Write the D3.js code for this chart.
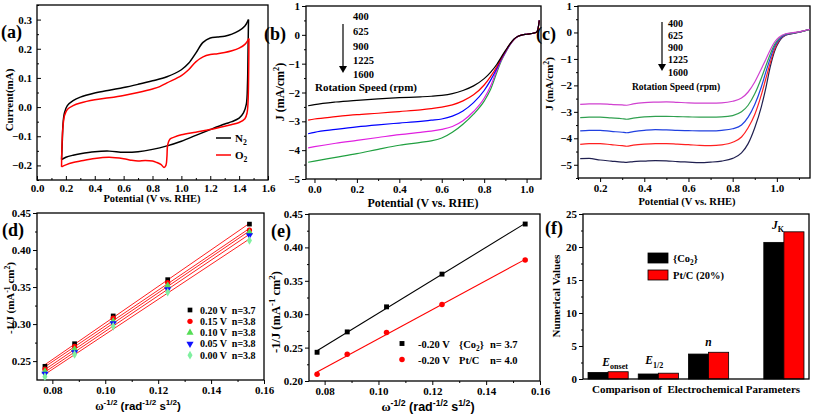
<!DOCTYPE html>
<html><head><meta charset="utf-8">
<script src="https://cdn.jsdelivr.net/npm/d3@7/dist/d3.min.js"></script>
<style>body{margin:0;background:#fff}svg{display:block}</style>
</head><body>
<svg id="fig" width="813" height="417"></svg>
<script>
// ================= DATA =================
// (a) cyclic voltammograms [potential V, current mA]
const cvN2Anodic = [[0.17,-0.18],[0.175,-0.12],[0.18,-0.06],[0.19,-0.02],[0.21,0.005],[0.25,0.022],[0.3,0.034],[0.4,0.048],[0.5,0.058],[0.6,0.067],[0.7,0.078],[0.8,0.09],[0.9,0.104],[1.0,0.128],[1.05,0.15],[1.1,0.185],[1.15,0.222],[1.2,0.237],[1.25,0.24],[1.3,0.243],[1.35,0.25],[1.4,0.262],[1.44,0.278],[1.465,0.30]];
const cvN2Cathodic = [[1.465,0.30],[1.462,0.2],[1.458,0.08],[1.45,0.01],[1.43,-0.02],[1.4,-0.038],[1.35,-0.05],[1.3,-0.058],[1.2,-0.077],[1.1,-0.097],[1.0,-0.117],[0.9,-0.133],[0.8,-0.145],[0.7,-0.153],[0.6,-0.155],[0.5,-0.151],[0.4,-0.153],[0.3,-0.16],[0.25,-0.165],[0.2,-0.172],[0.17,-0.18]];
const cvO2Anodic = [[0.17,-0.205],[0.172,-0.15],[0.178,-0.08],[0.19,-0.03],[0.21,-0.008],[0.25,0.005],[0.3,0.014],[0.4,0.025],[0.5,0.032],[0.6,0.04],[0.7,0.05],[0.8,0.062],[0.85,0.07],[0.9,0.083],[1.0,0.108],[1.05,0.128],[1.1,0.155],[1.15,0.172],[1.2,0.18],[1.25,0.183],[1.3,0.187],[1.35,0.193],[1.4,0.202],[1.44,0.215],[1.468,0.235]];
const cvO2Cathodic = [[1.468,0.235],[1.466,0.12],[1.462,0.02],[1.455,-0.02],[1.44,-0.04],[1.4,-0.053],[1.35,-0.06],[1.3,-0.066],[1.2,-0.077],[1.1,-0.086],[1.0,-0.095],[0.95,-0.103],[0.92,-0.11],[0.905,-0.13],[0.9,-0.17],[0.893,-0.2],[0.88,-0.207],[0.86,-0.197],[0.83,-0.19],[0.8,-0.185],[0.75,-0.183],[0.7,-0.185],[0.65,-0.182],[0.6,-0.177],[0.5,-0.172],[0.4,-0.176],[0.3,-0.185],[0.25,-0.19],[0.2,-0.198],[0.17,-0.205]];
const cvLegend = ["N", "O"];

// (b) LSV curves {Co2}
const lsvBPotential = [-0.03,0.0,0.1,0.2,0.3,0.4,0.5,0.55,0.6,0.65,0.7,0.75,0.8,0.83,0.86,0.88,0.9,0.92,0.94,0.96,0.98,1.0,1.02,1.04,1.05,1.055,1.06];
const lsvB400  = [-2.46,-2.42,-2.33,-2.27,-2.22,-2.18,-2.15,-2.13,-2.10,-2.04,-1.93,-1.77,-1.52,-1.30,-1.02,-0.78,-0.55,-0.33,-0.15,-0.05,0.0,0.02,0.04,0.07,0.12,0.25,0.5];
const lsvB625  = [-2.96,-2.92,-2.84,-2.77,-2.72,-2.66,-2.60,-2.56,-2.51,-2.43,-2.29,-2.08,-1.74,-1.45,-1.10,-0.82,-0.57,-0.34,-0.16,-0.05,0.0,0.02,0.04,0.07,0.12,0.25,0.5];
const lsvB900  = [-3.43,-3.38,-3.28,-3.19,-3.12,-3.06,-3.00,-2.96,-2.92,-2.82,-2.64,-2.35,-1.93,-1.58,-1.16,-0.85,-0.59,-0.35,-0.16,-0.05,0.0,0.02,0.04,0.07,0.12,0.25,0.5];
const lsvB1225 = [-3.92,-3.88,-3.76,-3.66,-3.56,-3.46,-3.38,-3.34,-3.28,-3.18,-2.98,-2.66,-2.20,-1.78,-1.22,-0.88,-0.61,-0.36,-0.17,-0.05,0.0,0.02,0.04,0.07,0.12,0.25,0.5];
const lsvB1600 = [-4.42,-4.38,-4.25,-4.12,-3.97,-3.83,-3.73,-3.68,-3.58,-3.38,-3.10,-2.75,-2.30,-1.90,-1.30,-0.92,-0.63,-0.37,-0.17,-0.05,0.0,0.02,0.04,0.07,0.12,0.25,0.5];
const lsvBColors = ["#000000","#ff0000","#0000ff","#e020e0","#20a040"];

// (c) LSV curves Pt/C
const lsvCPotential = [0.11,0.15,0.2,0.25,0.3,0.32,0.35,0.4,0.45,0.5,0.55,0.6,0.65,0.7,0.75,0.8,0.84,0.87,0.9,0.93,0.95,0.97,0.99,1.01,1.04,1.08,1.12,1.15];
const lsvC400  = [-2.72,-2.70,-2.70,-2.72,-2.74,-2.75,-2.70,-2.65,-2.63,-2.62,-2.64,-2.66,-2.67,-2.67,-2.66,-2.60,-2.48,-2.25,-1.87,-1.37,-1.02,-0.66,-0.36,-0.18,-0.05,0.0,0.06,0.12];
const lsvC625  = [-3.22,-3.20,-3.20,-3.23,-3.26,-3.28,-3.24,-3.19,-3.17,-3.17,-3.18,-3.19,-3.20,-3.20,-3.19,-3.14,-3.00,-2.75,-2.32,-1.72,-1.27,-0.82,-0.45,-0.22,-0.06,-0.01,0.05,0.12];
const lsvC900  = [-3.72,-3.70,-3.70,-3.74,-3.77,-3.79,-3.75,-3.70,-3.67,-3.68,-3.70,-3.71,-3.72,-3.72,-3.70,-3.64,-3.50,-3.20,-2.72,-2.05,-1.50,-0.98,-0.52,-0.27,-0.08,-0.02,0.05,0.12];
const lsvC1225 = [-4.23,-4.20,-4.20,-4.24,-4.28,-4.30,-4.26,-4.22,-4.20,-4.20,-4.22,-4.24,-4.27,-4.28,-4.25,-4.15,-3.95,-3.60,-3.10,-2.35,-1.75,-1.15,-0.62,-0.30,-0.09,-0.02,0.05,0.12];
const lsvC1600 = [-4.77,-4.76,-4.82,-4.86,-4.90,-4.91,-4.88,-4.86,-4.84,-4.85,-4.88,-4.90,-4.92,-4.90,-4.86,-4.76,-4.55,-4.20,-3.60,-2.80,-2.10,-1.30,-0.70,-0.35,-0.10,-0.03,0.05,0.12];
const lsvCColors = ["#d040d0","#30a050","#2040e0","#ff2020","#202050"];
const speedLabels = ["400","625","900","1225","1600"];

// (d) Koutecky-Levich plots
const klOmega = [0.0772,0.0884,0.1030,0.1236,0.1545];
const kl020 = [0.243,0.2735,0.311,0.360,0.435];
const kl015 = [0.239,0.270,0.308,0.356,0.427];
const kl010 = [0.236,0.266,0.304,0.352,0.424];
const kl005 = [0.233,0.262,0.301,0.347,0.420];
const kl000 = [0.229,0.259,0.297,0.343,0.413];
const klLabels = ["0.20 V  n=3.7","0.15 V  n=3.8","0.10 V  n=3.8","0.05 V  n=3.8","0.00 V  n=3.8"];
const klColors = ["#000000","#ff0000","#55dd55","#1010ff","#80f0a0"];

// (e) comparison K-L
const klCo2 = [0.243,0.2735,0.311,0.360,0.435];
const klPtC = [0.210,0.240,0.2725,0.3145,0.381];

// (f) bar chart
const paramNames = ["Eonset","E1/2","n","JK"];
const paramPos = [1,2,3,4.5];
const barCo2 = [1.0,0.76,3.78,20.7];
const barPtC = [1.1,0.88,4.05,22.3];

// ticks
const aXTicks=[0,0.2,0.4,0.6,0.8,1.0,1.2,1.4,1.6], aYTicks=[-0.2,-0.1,0.0,0.1,0.2,0.3];
const bXTicks=[0,0.2,0.4,0.6,0.8,1.0], bYTicks=[1,0,-1,-2,-3,-4,-5];
const cXTicks=[0.2,0.4,0.6,0.8,1.0], cYTicks=[1,0,-1,-2,-3,-4,-5];
const dXTicks=[0.08,0.10,0.12,0.14,0.16], dYTicks=[0.25,0.30,0.35,0.40,0.45];
const eYTicks=[0.20,0.25,0.30,0.35,0.40,0.45];
const fYTicks=[0,5,10,15,20,25];

// ================= DRAW =================
const SERIF="'Liberation Serif','Times New Roman',serif";
const SANS="'Liberation Sans',Arial,sans-serif";
const svg=d3.select("#fig");
svg.append("rect").attr("width",813).attr("height",417).attr("fill","#fff");

function mids(t){const m=[];for(let i=0;i<t.length-1;i++)m.push((t[i]+t[i+1])/2);return m;}

function axes(g,x,y,box,o){
  const inw=o.inward, s=inw?-4:4, sm=inw?-2:2;
  const style=sel=>{sel.select(".domain").remove();
    sel.selectAll("text").attr("font-family",SERIF).attr("font-weight","bold").attr("font-size",11).attr("fill","#000");
    sel.selectAll("line").attr("stroke","#000").attr("stroke-width",1);};
  if(o.xTicks){
    g.append("g").attr("transform",`translate(0,${box.B})`)
     .call(d3.axisBottom(x).tickValues(o.xTicks).tickFormat(o.xFmt).tickSize(s).tickPadding(inw?4:2)).call(style);
    g.append("g").attr("transform",`translate(0,${box.B})`)
     .call(d3.axisBottom(x).tickValues(o.xMinor||mids(o.xTicks)).tickFormat("").tickSize(sm)).call(style);
  }
  g.append("g").attr("transform",`translate(${box.L},0)`)
   .call(d3.axisLeft(y).tickValues(o.yTicks).tickFormat(o.yFmt).tickSize(s).tickPadding(inw?5:2)).call(style);
  g.append("g").attr("transform",`translate(${box.L},0)`)
   .call(d3.axisLeft(y).tickValues(o.yMinor||mids(o.yTicks)).tickFormat("").tickSize(sm)).call(style);
  g.append("rect").attr("x",box.L).attr("y",box.T).attr("width",box.R-box.L).attr("height",box.B-box.T)
   .attr("fill","none").attr("stroke","#000").attr("stroke-width",1.3);
}

function rich(g,x,y,parts,o={}){
  const fs=o.size||11;
  const t=g.append("text").attr("x",x).attr("y",y).attr("font-family",o.family||SERIF)
    .attr("font-weight","bold").attr("font-size",fs).attr("text-anchor",o.anchor||"start").attr("fill","#000");
  if(o.rotate)t.attr("transform",`rotate(-90,${x},${y})`);
  let shift=0;
  parts.forEach(p=>{
    const s=typeof p==="string"?p:p[0], kind=typeof p==="string"?"n":(p[1]||"n");
    const target=kind==="sub"?fs*0.3:kind==="sup"?-fs*0.4:0;
    const sp=t.append("tspan").text(s).attr("dy",target-shift);
    shift=target;
    if(kind==="sub"||kind==="sup")sp.attr("font-size",fs*0.7);
    if(p[2])sp.attr("font-family",p[2]);
    if(p[3])sp.attr("font-style",p[3]);
  });
  return t;
}
function label(txt,x,y,size=18){
  svg.append("text").attr("x",x).attr("y",y).attr("font-family",SERIF).attr("font-weight","bold")
    .attr("font-size",size).text(txt);
}
const f1=d3.format(".1f"), f2=d3.format(".2f"), f0=d3.format("d");

// ---- (a)
{
  const box={L:37,R:268,T:5,B:180};
  const x=d3.scaleLinear().domain([0,1.6]).range([box.L,box.R]);
  const y=d3.scaleLinear().domain([-0.25,0.35]).range([box.B,box.T]);
  const g=svg.append("g");
  axes(g,x,y,box,{inward:true,xTicks:aXTicks,xFmt:f1,yTicks:aYTicks,yFmt:f1,
    yMinor:[-0.25,-0.15,-0.05,0.05,0.15,0.25,0.35]});
  const line=d3.line().x(d=>x(d[0])).y(d=>y(d[1])).curve(d3.curveCatmullRom.alpha(0.5));
  [[cvN2Anodic,"#000"],[cvN2Cathodic,"#000"],[cvO2Anodic,"#ff0000"],[cvO2Cathodic,"#ff0000"]].forEach(([d,c])=>
    g.append("path").attr("d",line(d)).attr("fill","none").attr("stroke",c).attr("stroke-width",1.5));
  const lc=["#000","#ff0000"];
  cvLegend.forEach((n,i)=>{
    const yy=138+i*17;
    g.append("line").attr("x1",216).attr("x2",231).attr("y1",yy).attr("y2",yy).attr("stroke",lc[i]).attr("stroke-width",1.5);
    rich(g,235,yy+4,[n,["2","sub"]],{size:11});
  });
  rich(g,152,202,["Potential (V vs. RHE)"],{anchor:"middle",size:10.5});
  rich(g,13,100,["Current(mA)"],{anchor:"middle",size:11,rotate:true});
  label("(a)",1,38);
}

// ---- (b)
{
  const box={L:306,R:541,T:6,B:179};
  const x=d3.scaleLinear().domain([-0.04,1.068]).range([box.L,box.R]);
  const y=d3.scaleLinear().domain([-5,1]).range([box.B,box.T]);
  const g=svg.append("g");
  axes(g,x,y,box,{inward:false,xTicks:bXTicks,xFmt:f1,xMinor:[0.1,0.3,0.5,0.7,0.9],yTicks:bYTicks,yFmt:f0});
  const line=d3.line().x((d,i)=>x(lsvBPotential[i])).y(d=>y(d)).curve(d3.curveMonotoneX);
  [lsvB1600,lsvB1225,lsvB900,lsvB625,lsvB400].forEach((s,k)=>{
    const i=4-k;
    g.append("path").attr("d",line(s)).attr("fill","none").attr("stroke",lsvBColors[i]).attr("stroke-width",1.2);
  });
  speedLabels.forEach((s,i)=>rich(g,353,[20,35,50,64,78][i],[s],{size:10.5}));
  g.append("line").attr("x1",343).attr("x2",343).attr("y1",24).attr("y2",68).attr("stroke","#000").attr("stroke-width",1.2);
  g.append("path").attr("d","M339,66 L347,66 L343,73 Z").attr("fill","#000");
  rich(g,366,91,["Rotation Speed (rpm)"],{anchor:"middle",size:11});
  rich(g,423,207,["Potential (V vs. RHE)"],{anchor:"middle",size:12});
  rich(g,284,92,["J (mA/cm",["2","sup"],")"],{anchor:"middle",size:12,rotate:true});
  label("(b)",264,40);
}

// ---- (c)
{
  const box={L:578,R:810,T:6,B:178};
  const x=d3.scaleLinear().domain([0.1,1.15]).range([box.L,box.R]);
  const y=d3.scaleLinear().domain([-5.5,1]).range([box.B,box.T]);
  const g=svg.append("g");
  axes(g,x,y,box,{inward:false,xTicks:cXTicks,xFmt:f1,xMinor:[0.1,0.3,0.5,0.7,0.9,1.1],yTicks:cYTicks,yFmt:f0,
    yMinor:[0.5,-0.5,-1.5,-2.5,-3.5,-4.5,-5.5]});
  const line=d3.line().x((d,i)=>x(lsvCPotential[i])).y(d=>y(d)).curve(d3.curveMonotoneX);
  [lsvC1600,lsvC1225,lsvC900,lsvC625,lsvC400].forEach((s,k)=>{
    const i=4-k;
    g.append("path").attr("d",line(s)).attr("fill","none").attr("stroke",lsvCColors[i]).attr("stroke-width",1.2);
  });
  speedLabels.forEach((s,i)=>rich(g,668,[27,39,51,63,76][i],[s],{size:10}));
  g.append("line").attr("x1",662).attr("x2",662).attr("y1",22).attr("y2",66).attr("stroke","#000").attr("stroke-width",1.2);
  g.append("path").attr("d","M658,64 L666,64 L662,71 Z").attr("fill","#000");
  rich(g,676,90,["Rotation Speed (rpm)"],{anchor:"middle",size:9.5});
  rich(g,687,205,["Potential (V vs. RHE)"],{anchor:"middle",size:10.5});
  rich(g,553,84,["J (mA/cm",["2","sup"],")"],{anchor:"middle",size:11,rotate:true});
  label("(c)",536,40);
}

function linfit(xs,ys){
  const mx=d3.mean(xs),my=d3.mean(ys);
  const b=d3.sum(xs.map((v,i)=>(v-mx)*(ys[i]-my)))/d3.sum(xs.map(v=>(v-mx)*(v-mx)));
  return v=>my+b*(v-mx);
}
const omegaTitle=(g,x,y,size)=>rich(g,x,y,[["ω","n",SERIF],["-1/2","sup",SANS],[" (rad","n",SANS],["-1/2","sup",SANS],[" s","n",SANS],["1/2","sup",SANS],[")","n",SANS]],{anchor:"middle",size});
const klYTitle=(g,x,y,size)=>rich(g,x,y,["-1/J (mA",["-1","sup"]," cm",["2","sup"],")"],{anchor:"middle",size,rotate:true});

// ---- (d)
{
  const box={L:37,R:264,T:213,B:380};
  const x=d3.scaleLinear().domain([0.0742,0.16]).range([box.L,box.R]);
  const y=d3.scaleLinear().domain([0.2245,0.45]).range([box.B,box.T]);
  const g=svg.append("g");
  axes(g,x,y,box,{inward:false,xTicks:dXTicks,xFmt:f2,xMinor:[0.09,0.11,0.13,0.15],yTicks:dYTicks,yFmt:f2,
    yMinor:[0.275,0.325,0.375,0.425]});
  const series=[kl020,kl015,kl010,kl005,kl000];
  const syms=[d3.symbolSquare,d3.symbolCircle,d3.symbolTriangle,d3.symbolTriangle,d3.symbolDiamond];
  const rot=[0,0,0,180,0];
  series.forEach(s=>{
    const f=linfit(klOmega,s);
    g.append("line").attr("x1",x(klOmega[0])).attr("x2",x(klOmega[4])).attr("y1",y(f(klOmega[0]))).attr("y2",y(f(klOmega[4])))
     .attr("stroke","#ff2020").attr("stroke-width",1);
  });
  series.forEach((s,k)=>{
    s.forEach((v,i)=>g.append("path").attr("d",d3.symbol(syms[k],22)())
      .attr("transform",`translate(${x(klOmega[i])},${y(v)}) rotate(${rot[k]})`).attr("fill",klColors[k]));
  });
  const rows=[310,321.3,332.6,343.9,355.2];
  klLabels.forEach((l,k)=>{
    g.append("path").attr("d",d3.symbol(syms[k],22)()).attr("transform",`translate(190,${rows[k]}) rotate(${rot[k]})`).attr("fill",klColors[k]);
    rich(g,200,rows[k]+3.5,[l],{size:10}).attr("xml:space","preserve");
  });
  omegaTitle(g,138,410,11.5);
  klYTitle(g,14,298,11);
  label("(d)",2,236);
}

// ---- (e)
{
  const box={L:309,R:540,T:214,B:381};
  const x=d3.scaleLinear().domain([0.0742,0.16]).range([box.L,box.R]);
  const y=d3.scaleLinear().domain([0.2,0.45]).range([box.B,box.T]);
  const g=svg.append("g");
  axes(g,x,y,box,{inward:false,xTicks:dXTicks,xFmt:f2,xMinor:[0.09,0.11,0.13,0.15],yTicks:eYTicks,yFmt:f2,
    yMinor:[0.225,0.275,0.325,0.375,0.425]});
  const cols=["#000","#ff0000"], syms=[d3.symbolSquare,d3.symbolCircle];
  [klCo2,klPtC].forEach((s,k)=>{
    const f=linfit(klOmega,s);
    g.append("line").attr("x1",x(klOmega[0])).attr("x2",x(klOmega[4])).attr("y1",y(f(klOmega[0]))).attr("y2",y(f(klOmega[4])))
     .attr("stroke",cols[k]).attr("stroke-width",1.1);
    s.forEach((v,i)=>g.append("path").attr("d",d3.symbol(syms[k],24)()).attr("transform",`translate(${x(klOmega[i])},${y(v)})`).attr("fill",cols[k]));
  });
  const rows=[343.5,359.5];
  rows.forEach((r,k)=>{
    g.append("path").attr("d",d3.symbol(syms[k],24)()).attr("transform",`translate(402,${r})`).attr("fill",cols[k]);
    rich(g,418,r+4,["-0.20 V"],{size:10.5});
  });
  rich(g,459,rows[0]+4,["{Co",["2","sub"],"}"],{size:10.5});
  rich(g,490,rows[0]+4,["n= 3.7"],{size:10.5});
  rich(g,459,rows[1]+4,["Pt/C"],{size:10.5});
  rich(g,490,rows[1]+4,["n= 4.0"],{size:10.5});
  omegaTitle(g,428,411,12.5);
  klYTitle(g,280,312,12.5);
  label("(e)",271,237);
}

// ---- (f)
{
  const box={L:583,R:809,T:214,B:379};
  const x=d3.scaleLinear().domain([0.5,5.0]).range([box.L,box.R]);
  const y=d3.scaleLinear().domain([0,25]).range([box.B,box.T]);
  const g=svg.append("g");
  const bw=x(0.9)-x(0.5);
  paramPos.forEach((p,i)=>{
    g.append("rect").attr("x",x(p)-bw).attr("y",y(barCo2[i])).attr("width",bw).attr("height",y(0)-y(barCo2[i]))
      .attr("fill","#000").attr("stroke","#000").attr("stroke-width",0.8);
    g.append("rect").attr("x",x(p)).attr("y",y(barPtC[i])).attr("width",bw).attr("height",y(0)-y(barPtC[i]))
      .attr("fill","#ff0000").attr("stroke","#000").attr("stroke-width",0.8);
  });
  axes(g,x,y,box,{inward:false,yTicks:fYTicks,yFmt:f0,yMinor:[2.5,7.5,12.5,17.5,22.5]});
  const top=i=>y(Math.max(barCo2[i],barPtC[i]));
  rich(g,x(paramPos[0])+7,top(0)-6,[["E","n",SERIF,"italic"],["onset","sub"]],{anchor:"middle",size:11.5});
  rich(g,x(paramPos[1])-4,top(1)-9,[["E","n",SERIF,"italic"],["1/2","sub"]],{anchor:"middle",size:11.5});
  rich(g,x(paramPos[2]),top(2)-6,[["n","n",SERIF,"italic"]],{anchor:"middle",size:11.5});
  rich(g,x(paramPos[3])-6,top(3)-3,[["J","n",SERIF,"italic"],["K","sub"]],{anchor:"middle",size:11.5});
  const lg=[["#000",[ "{Co",["2","sub"],"}" ]],["#ff0000",["Pt/C (20%)"]]];
  lg.forEach((l,k)=>{
    const yy=253+k*17;
    g.append("rect").attr("x",648).attr("y",yy).attr("width",20).attr("height",10).attr("fill",l[0]).attr("stroke","#000").attr("stroke-width",0.8);
    rich(g,673,yy+9,l[1],{size:10.5});
  });
  rich(g,696,393,["Comparison of  Electrochemical Parameters"],{anchor:"middle",size:11}).attr("xml:space","preserve");
  rich(g,560,296,["Numerical Values"],{anchor:"middle",size:11,rotate:true});
  label("(f)",545,234);
}
</script>
</body></html>
